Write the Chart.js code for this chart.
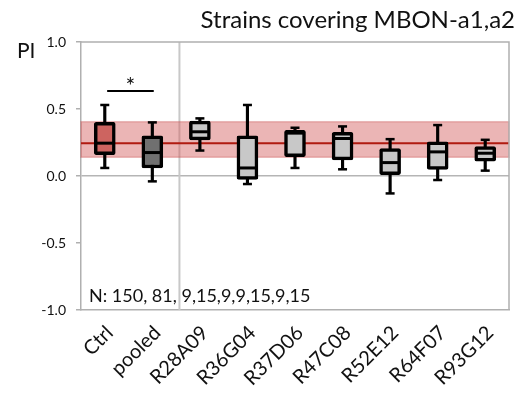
<!DOCTYPE html>
<html>
<head>
<meta charset="utf-8">
<script src="https://cdn.jsdelivr.net/npm/chart.js@4"></script>
<style>
  html, body { margin: 0; padding: 0; background: #fff; }
  #wrap { width: 520px; height: 393px; position: relative; }
</style>
</head>
<body>
<div id="wrap"><canvas id="c" width="520" height="393"></canvas></div>
<script>
const categories = ['Ctrl', 'pooled', 'R28A09', 'R36G04', 'R37D06', 'R47C08', 'R52E12', 'R64F07', 'R93G12'];
const whiskerMin = [0.06, -0.04, 0.19, -0.06, 0.06, 0.05, -0.13, -0.03, 0.04];
const quartile1  = [0.16, 0.06, 0.27, -0.025, 0.145, 0.12, 0.01, 0.05, 0.11];
const medians    = [0.245, 0.175, 0.33, 0.06, 0.32, 0.28, 0.10, 0.18, 0.17];
const quartile3  = [0.40, 0.30, 0.41, 0.30, 0.34, 0.325, 0.205, 0.255, 0.22];
const whiskerMax = [0.53, 0.40, 0.43, 0.53, 0.36, 0.37, 0.275, 0.38, 0.27];
const boxColors  = ['#cd6460', '#707070', '#c8c8c8', '#c8c8c8', '#c8c8c8', '#c8c8c8', '#c8c8c8', '#c8c8c8', '#c8c8c8'];
const ctrlBand   = [0.14, 0.405];
const ctrlLine   = 0.245;
const yTicks     = [-1.0, -0.5, 0.0, 0.5, 1.0];
const titleText  = 'Strains covering MBON-a1,a2';
const yLabelText = 'PI';
const nText      = 'N: 150, 81, 9,15,9,9,15,9,15';
const sigPair    = [0.05, 1.03];
const sigLevel   = 0.635;
const sigText    = '*';
const separatorAt = 1.57;

const FONT = 'Lato, "Open Sans", sans-serif';

const decorPlugin = {
  id: 'decor',
  beforeDatasetsDraw(chart) {
    const { ctx, chartArea: a, scales: { x, y } } = chart;
    ctx.save();
    // separator
    const sx = x.getPixelForValue(separatorAt);
    ctx.strokeStyle = '#c8c8c8';
    ctx.lineWidth = 2;
    ctx.beginPath(); ctx.moveTo(sx, a.top); ctx.lineTo(sx, a.bottom); ctx.stroke();
    // band
    const yt = y.getPixelForValue(ctrlBand[1]);
    const yb = y.getPixelForValue(ctrlBand[0]);
    ctx.fillStyle = 'rgba(210, 90, 90, 0.45)';
    ctx.fillRect(a.left, yt, a.right - a.left, yb - yt);
    ctx.strokeStyle = 'rgba(200, 80, 80, 0.35)';
    ctx.lineWidth = 1.5;
    ctx.strokeRect(a.left, yt, a.right - a.left, yb - yt);
    const yl = y.getPixelForValue(ctrlLine);
    ctx.strokeStyle = '#b01a10';
    ctx.lineWidth = 2;
    ctx.beginPath(); ctx.moveTo(a.left, yl); ctx.lineTo(a.right, yl); ctx.stroke();
    // frame (top + right)
    ctx.strokeStyle = '#b0b0b0';
    ctx.lineWidth = 1.5;
    ctx.beginPath();
    ctx.moveTo(a.left, a.top); ctx.lineTo(a.right, a.top); ctx.lineTo(a.right, a.bottom);
    ctx.stroke();
    ctx.restore();
  },
  afterDraw(chart) {
    const { ctx, chartArea: a, scales: { x, y } } = chart;
    ctx.save();
    ctx.fillStyle = '#111';
    // title
    ctx.font = '24px ' + FONT;
    ctx.textAlign = 'right';
    ctx.textBaseline = 'alphabetic';
    ctx.fillText(titleText, 515, 28);
    // PI
    ctx.font = '21px ' + FONT;
    ctx.textAlign = 'left';
    ctx.fillText(yLabelText, 17, 58);
    // N text
    ctx.font = '18px ' + FONT;
    ctx.fillText(nText, a.left + 8, a.bottom - 8);
    // significance
    const x1 = x.getPixelForValue(sigPair[0]);
    const x2 = x.getPixelForValue(sigPair[1]);
    const ys = y.getPixelForValue(sigLevel);
    ctx.strokeStyle = '#000';
    ctx.lineWidth = 2;
    ctx.beginPath(); ctx.moveTo(x1, ys); ctx.lineTo(x2, ys); ctx.stroke();
    ctx.font = '23px ' + FONT;
    ctx.textAlign = 'center';
    ctx.fillText(sigText, (x1 + x2) / 2, ys + 3);
    ctx.restore();
  }
};

const gridColor = (c) => (c.tick && c.tick.value === 0) ? '#b5b5b5' : 'rgba(0,0,0,0)';

new Chart(document.getElementById('c'), {
  data: {
    labels: categories,
    datasets: [
      {
        type: 'bar',
        data: whiskerMin.map((v, i) => [v, whiskerMax[i]]),
        backgroundColor: '#000',
        barThickness: 2.5,
        grouped: false,
        order: 3
      },
      {
        type: 'bar',
        data: quartile1.map((v, i) => [v, quartile3[i]]),
        backgroundColor: boxColors,
        borderColor: '#000',
        borderWidth: 3.5,
        borderSkipped: false,
        borderRadius: 2,
        barThickness: 21,
        grouped: false,
        order: 2
      },
      {
        type: 'line',
        data: medians,
        showLine: false,
        pointStyle: 'line',
        pointRadius: 8,
        pointBorderWidth: 3,
        pointBorderColor: '#000',
        order: 1
      },
      {
        type: 'line',
        data: whiskerMax,
        showLine: false,
        pointStyle: 'line',
        pointRadius: 4.5,
        pointBorderWidth: 2.5,
        pointBorderColor: '#000',
        order: 1
      },
      {
        type: 'line',
        data: whiskerMin,
        showLine: false,
        pointStyle: 'line',
        pointRadius: 4.5,
        pointBorderWidth: 2.5,
        pointBorderColor: '#000',
        order: 1
      }
    ]
  },
  options: {
    responsive: false,
    animation: false,
    events: [],
    layout: { padding: { top: 42, right: 3, left: 0, bottom: 0 } },
    plugins: { legend: { display: false }, tooltip: { enabled: false }, title: { display: false } },
    scales: {
      x: {
        type: 'category',
        offset: true,
        grid: { display: false },
        border: { display: true, color: '#b0b0b0', width: 1.5 },
        ticks: {
          autoSkip: false,
          minRotation: 45,
          maxRotation: 45,
          padding: 3,
          labelOffset: 5,
          color: '#111',
          font: { family: FONT, size: 20 }
        },
        afterFit(s) { s.height = 83; }
      },
      y: {
        type: 'linear',
        min: -1,
        max: 1,
        afterBuildTicks(s) { s.ticks = yTicks.map(v => ({ value: v })); },
        grid: { color: gridColor, lineWidth: 1.5, drawTicks: true, tickLength: 5, tickColor: '#b0b0b0', tickWidth: 1.5 },
        border: { display: true, color: '#b0b0b0', width: 1.5 },
        ticks: {
          padding: 10,
          color: '#111',
          font: { family: FONT, size: 14 },
          callback: (v) => Number(v).toFixed(1)
        },
        afterFit(s) { s.width = 81; }
      }
    }
  },
  plugins: [decorPlugin]
});
</script>
</body>
</html>
